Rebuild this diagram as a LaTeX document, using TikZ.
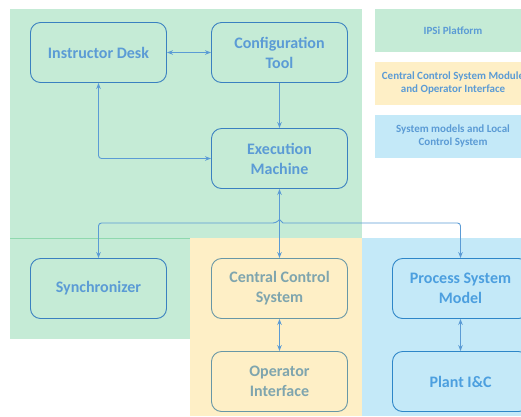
\documentclass[tikz,border=0pt]{standalone}
\usepackage{fontspec}
\setmainfont{Carlito}
\usetikzlibrary{arrows.meta}
\definecolor{grnbg}{HTML}{C5EBD6}
\definecolor{grnln}{HTML}{8FD8AE}
\definecolor{yelbg}{HTML}{FEEFC6}
\definecolor{blubg}{HTML}{C4E9F8}
\definecolor{txtb}{HTML}{5B9BD5}
\definecolor{brdb}{HTML}{3A80C0}
\definecolor{txty}{HTML}{7FA5AE}
\definecolor{brdy}{HTML}{6897A6}
\definecolor{txtc}{HTML}{4C9FDF}
\definecolor{brdc}{HTML}{2E86C8}
\definecolor{linec}{HTML}{5B9BD5}
\tikzset{
  box/.style={draw=brdb, line width=0.9pt, rounded corners=10pt, minimum width=136pt, minimum height=60pt,
    align=center, text=txtb, font=\fontsize{16}{20}\selectfont\bfseries, inner sep=2pt},
  boxy/.style={box, draw=brdy, text=txty},
  boxc/.style={box, draw=brdc, text=txtc},
  legend/.style={minimum width=156pt, minimum height=43pt, align=center, text=txtb,
    font=\fontsize{11}{13}\selectfont\bfseries, inner sep=0pt},
  conn/.style={draw=linec, line width=0.9pt, -{Stealth[length=6pt,width=4.5pt]}},
  conn2/.style={draw=linec, line width=0.9pt, {Stealth[length=6pt,width=4.5pt]}-{Stealth[length=6pt,width=4.5pt]}},
}
\begin{document}
\begin{tikzpicture}[x=1pt,y=-1pt]
\useasboundingbox (0,0) rectangle (521,416);
\clip (0,0) rectangle (521,416);
% regions
\fill[grnbg] (10,9) rectangle (362,238);
\fill[grnbg] (10,238) rectangle (190,339);
\draw[grnln, line width=0.8pt] (10,238) -- (190,238);
\fill[yelbg] (190,238) rectangle (362,416);
\fill[blubg] (362,238) rectangle (530,416);
% legend
\node[legend, fill=grnbg] (leg1) at (453,30.5) {IPSi Platform};
\node[legend, fill=yelbg] (leg2) at (453,83) {Central Control System Module\\and Operator Interface};
\node[legend, fill=blubg] (leg3) at (453,136) {System models and Local\\Control System};
% boxes
\node[box] (inst) at (98.5,52.5) {Instructor Desk};
\node[box] (conf) at (279.5,52.5) {Configuration\\Tool};
\node[box] (exec) at (279.5,158.5) {Execution\\Machine};
\node[box] (sync) at (98.5,288.5) {Synchronizer};
\node[boxy] (ccs) at (279.5,288.5) {Central Control\\System};
\node[boxy] (opi) at (279.5,381.5) {Operator\\Interface};
\node[boxc] (psm) at (460.5,288.5) {Process System\\Model};
\node[boxc] (plant) at (460.5,381.5) {Plant I\&C};
% connectors
\draw[conn2] (inst) -- (conf);
\draw[conn] (conf) -- (exec);
\draw[conn2, rounded corners=3pt] (inst.south) |- (exec.west);
\draw[conn2] (exec.south) -- (ccs.north);
\coordinate (hopL) at (276,223);
\coordinate (peak) at (279.5,219.5);
\coordinate (hopR) at (283,223);
\draw[conn2, rounded corners=3pt] (sync.north) |- (hopL) [sharp corners] -- (peak) -- (hopR) [rounded corners=3pt] -| (psm.north);
\draw[conn2] (ccs) -- (opi);
\draw[conn2] (psm) -- (plant);
\end{tikzpicture}
\end{document}
